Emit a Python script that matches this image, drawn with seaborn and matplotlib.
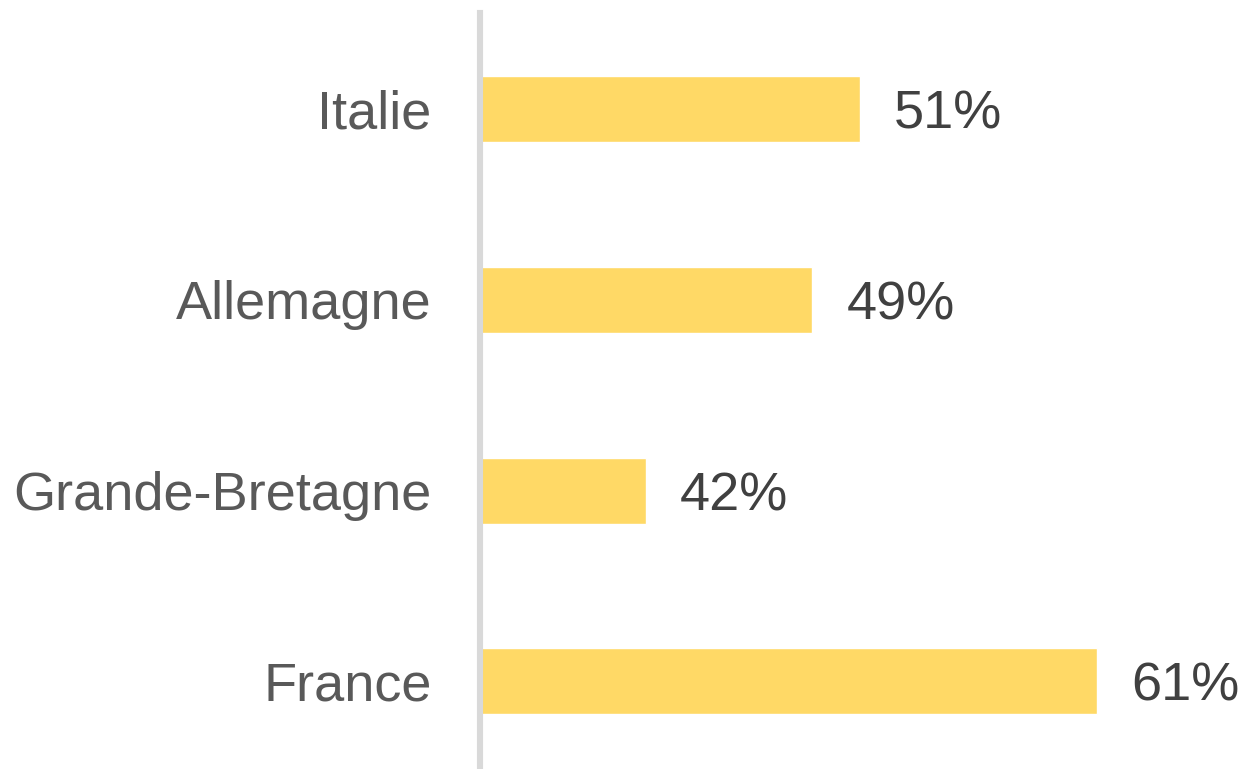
import seaborn as sns
import matplotlib.pyplot as plt
import pandas as pd

pays = ["Italie", "Allemagne", "Grande-Bretagne", "France"]
valeurs = [51, 49, 42, 61]

sns.set_style("white")
plt.rcParams["font.family"] = ["Liberation Sans", "DejaVu Sans"]

df = pd.DataFrame({"pays": pays, "valeur": valeurs})

fig = plt.figure(figsize=(12.41, 7.69), dpi=100)
ax = fig.add_axes([480 / 1241, 0, 761 / 1241, 1 - 13 / 769])

sns.barplot(data=df, x="valeur", y="pays", order=pays, color="#FFD966",
            saturation=1, width=0.346, ax=ax, zorder=1)

ax.set_xlim(35, 67.06)
ax.set_ylim(3.459, -0.503)

for i, v in enumerate(valeurs):
    ax.annotate(f"{v}%", xy=(v, i), xytext=(24.5, -14), textcoords="offset points",
                ha="left", va="baseline", fontsize=39, color="#404040")

for s in ["top", "right", "bottom"]:
    ax.spines[s].set_visible(False)
ax.spines["left"].set_color("#d9d9d9")
ax.spines["left"].set_linewidth(4.4)
ax.spines["left"].set_zorder(3)

ax.set_xticks([])
ax.tick_params(axis="y", length=0, pad=35, labelsize=39, labelcolor="#595959")
ax.set_xlabel("")
ax.set_ylabel("")

fig.savefig("out.png", dpi=100)
